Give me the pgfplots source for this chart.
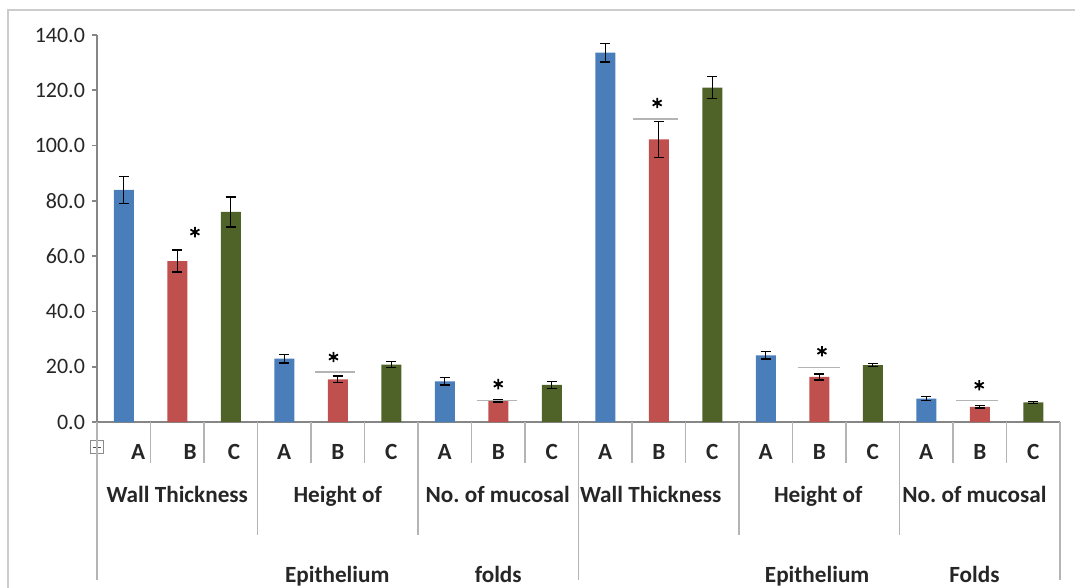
\documentclass[border=0pt]{standalone}
\usepackage{pgfplots}
\pgfplotsset{compat=1.18}
\usepackage{fontspec}
\setmainfont{Carlito}
\definecolor{barblue}{RGB}{74,126,187}
\definecolor{barred}{RGB}{192,80,77}
\definecolor{bargreen}{RGB}{79,98,40}
\definecolor{axgray}{RGB}{134,134,134}
\definecolor{sepgray}{RGB}{180,180,180}
\newcommand{\lblfont}{\fontsize{11}{13}\selectfont}
\newcommand{\grpfont}{\fontsize{11.6}{14}\selectfont}
\begin{document}
\begin{tikzpicture}[x=1pt,y=1pt]
\path[use as bounding box] (0,0) rectangle (537.5,-294);
\draw[black!20, line width=1.3pt] (4,-300) -- (4,-5) -- (545,-5);
% move handle icon
\draw[black!45, line width=0.5pt] (45.2,-220.2) rectangle (51.8,-226.8);
\draw[black!70, line width=0.4pt] (46.3,-223.5) -- (50.7,-223.5) (48.5,-221.3) -- (48.5,-225.7);
\begin{axis}[
  at={(48.5pt,-211pt)}, anchor=south west,
  scale only axis, width=481.5pt, height=193.5pt,
  xmin=-0.5, xmax=17.5, ymin=0, ymax=140,
  axis x line*=bottom, axis y line*=left,
  axis line style={axgray, line width=0.8pt},
  ytick={0,20,40,60,80,100,120,140},
  yticklabel style={/pgf/number format/fixed, /pgf/number format/fixed zerofill,
    /pgf/number format/precision=1, /pgf/number format/assume math mode=true,
    font=\lblfont, text=black!85},
  ytick style={axgray, line width=0.8pt},
  tick align=outside, major tick length=2.5pt,
  xtick={0.27,1.24,2.06,3,4,5,6,7,8,9,10,11,12,13,14,15,16,17},
  xticklabels={A,B,C,A,B,C,A,B,C,A,B,C,A,B,C,A,B,C},
  x tick label style={font=\grpfont\bfseries, text=black!85, anchor=base, yshift=-16pt},
  xtick style={draw=none},
  bar width=10pt,
  clip=false,
]
\addplot[ybar, bar shift=0pt, fill=barblue, draw=none,
  error bars/.cd, y dir=both, y explicit,
  error bar style={black, line width=0.7pt},
  error mark options={black, line width=0.7pt, mark size=2.6pt, rotate=90}]
  table[x=x, y=y, y error=e] {
x y e
0 84.0 4.9
3 22.9 1.6
6 14.7 1.3
9 133.6 3.3
12 24.1 1.3
15 8.5 0.7
};
\addplot[ybar, bar shift=0pt, fill=barred, draw=none,
  error bars/.cd, y dir=both, y explicit,
  error bar style={black, line width=0.7pt},
  error mark options={black, line width=0.7pt, mark size=2.6pt, rotate=90}]
  table[x=x, y=y, y error=e] {
x y e
1 58.2 4.0
4 15.4 1.2
7 7.7 0.5
10 102.2 6.5
13 16.3 1.1
16 5.5 0.5
};
\addplot[ybar, bar shift=0pt, fill=bargreen, draw=none,
  error bars/.cd, y dir=both, y explicit,
  error bar style={black, line width=0.7pt},
  error mark options={black, line width=0.7pt, mark size=2.6pt, rotate=90}]
  table[x=x, y=y, y error=e] {
x y e
2 76.0 5.4
5 20.8 1.1
8 13.4 1.3
11 121.0 4.0
14 20.6 0.6
17 7.1 0.3
};
% significance lines
\addplot[sepgray, line width=0.6pt] coordinates {(3.58,18.1) (4.33,18.1)};
\addplot[sepgray, line width=0.6pt] coordinates {(6.60,7.9) (7.35,7.9)};
\addplot[sepgray, line width=0.6pt] coordinates {(9.52,109.6) (10.36,109.6)};
\addplot[sepgray, line width=0.6pt] coordinates {(12.60,19.8) (13.39,19.8)};
\addplot[sepgray, line width=0.6pt] coordinates {(15.56,7.9) (16.34,7.9)};
% asterisks
\addplot[only marks, mark=asterisk, mark size=2.6pt, mark options={black, line width=0.9pt}]
  coordinates {(1.33,68.7) (3.92,23.5) (7.0,13.7) (9.97,115.4) (13.05,25.6) (15.99,13.3)};
% category separators
\pgfplotsinvokeforeach{0.5,1.5,3.5,4.5,6.5,7.5,9.5,10.5,12.5,13.5,15.5,16.5}{
  \draw[sepgray, line width=0.8pt] (axis cs:#1,0) -- ([yshift=-20.5pt]axis cs:#1,0);
}
\pgfplotsinvokeforeach{2.5,5.5,11.5,14.5}{
  \draw[sepgray, line width=0.8pt] (axis cs:#1,0) -- ([yshift=-56.5pt]axis cs:#1,0);
}
\pgfplotsinvokeforeach{-0.5,8.5,17.5}{
  \draw[sepgray, line width=0.8pt] (axis cs:#1,0) -- ([yshift=-79pt]axis cs:#1,0);
}
% group labels
\begin{scope}[every node/.style={font=\grpfont\bfseries, text=black!85, anchor=base}]
\node at (axis cs:1.0,0) [yshift=-40pt] {Wall Thickness};
\node at (axis cs:4.0,0) [yshift=-40pt] {Height of};
\node at (axis cs:6.99,0) [yshift=-40pt] {No.\ of mucosal};
\node at (axis cs:9.85,0) [yshift=-40pt] {Wall Thickness};
\node at (axis cs:12.98,0) [yshift=-40pt] {Height of};
\node at (axis cs:15.9,0) [yshift=-40pt] {No.\ of mucosal};
\node at (axis cs:3.99,0) [yshift=-80pt] {Epithelium};
\node at (axis cs:7.0,0) [yshift=-80pt] {folds};
\node at (axis cs:12.96,0) [yshift=-80pt] {Epithelium};
\node at (axis cs:15.9,0) [yshift=-80pt] {Folds};
\end{scope}
\end{axis}
\end{tikzpicture}
\end{document}
